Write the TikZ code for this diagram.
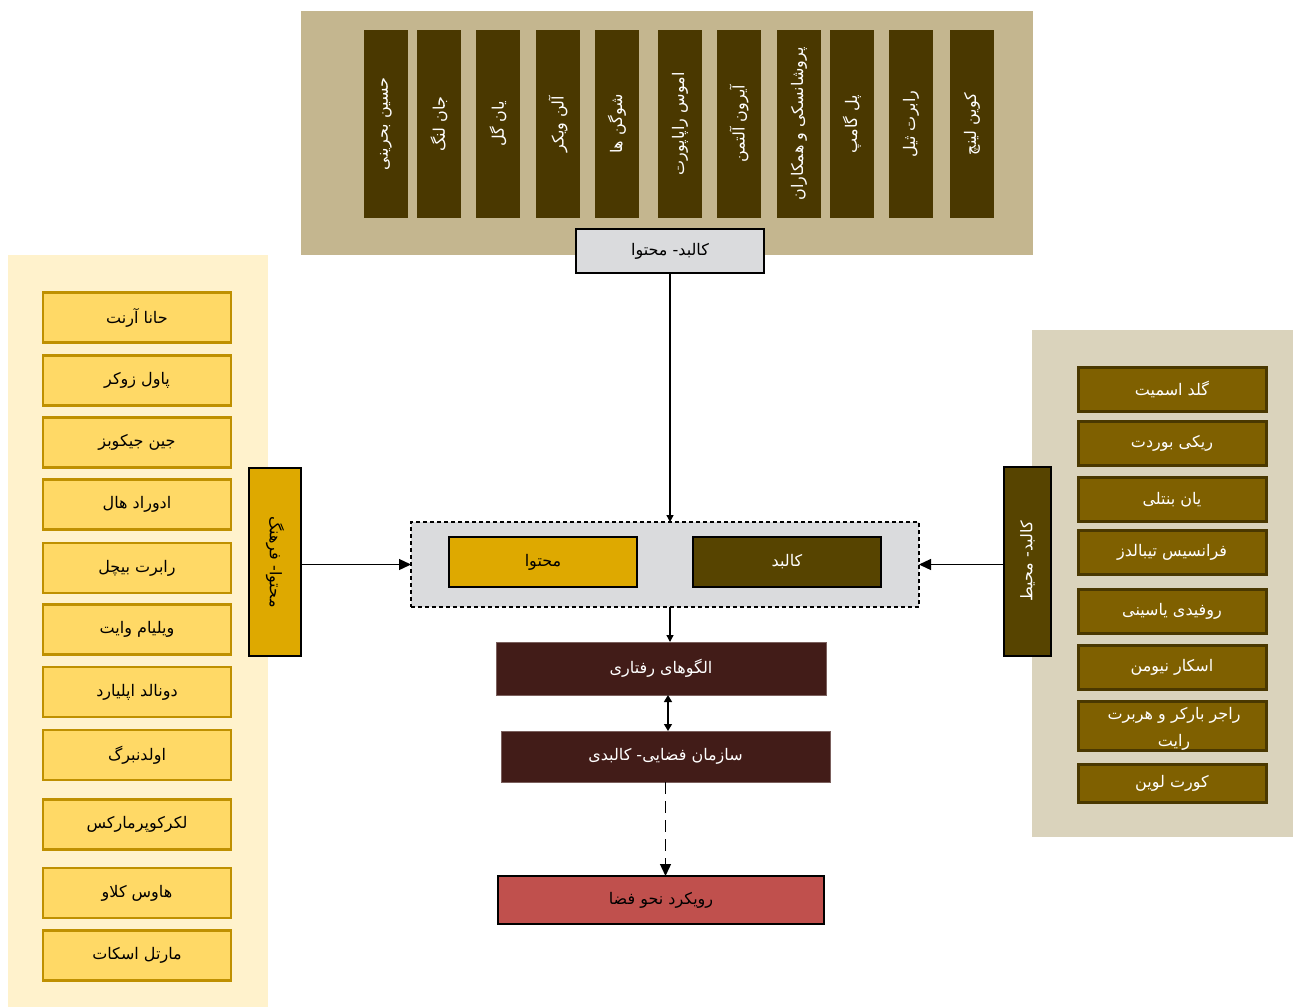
\documentclass[tikz,border=0pt]{standalone}
\usepackage{fontspec}
\usetikzlibrary{arrows.meta}
\TeXXeTstate=1
\newfontfamily\fa[Script=Arabic]{DejaVu Sans}
\newcommand\fatext[1]{{\fa\beginR #1\endR}}
\definecolor{topbg}{RGB}{196,182,143}
\definecolor{colbrown}{RGB}{74,56,0}
\definecolor{lightgray}{RGB}{218,219,221}
\definecolor{gold}{RGB}{222,169,0}
\definecolor{olive}{RGB}{87,68,0}
\definecolor{leftbg}{RGB}{255,242,204}
\definecolor{leftfill}{RGB}{255,217,102}
\definecolor{leftdraw}{RGB}{191,144,0}
\definecolor{rightbg}{RGB}{218,211,188}
\definecolor{rightfill}{RGB}{127,96,0}
\definecolor{maroon}{RGB}{66,28,24}
\definecolor{redbox}{RGB}{192,80,77}
\tikzset{
  base/.style={inner sep=0pt, outer sep=0pt, font=\fontsize{16}{19}\selectfont},
  topcol/.style={base, fill=colbrown, text=white, rotate=90, minimum width=188pt, minimum height=44pt},
  leftitem/.style={base, fill=leftfill, draw=leftdraw, line width=2.5pt, text=black, minimum width=188pt, minimum height=50pt},
  rightitem/.style={base, fill=rightfill, draw=colbrown, line width=3pt, text=white, minimum width=188pt, minimum height=44pt},
  blackbox/.style={base, draw=black, line width=2.5pt},
  darkbox/.style={base, fill=maroon, text=white, draw=maroon!70!white, line width=0.5pt},
  conn/.style={line width=1.3pt, -{Triangle[length=7pt,width=7pt]}},
  bigconn/.style={line width=1.3pt, -{Triangle[length=12pt,width=11pt]}},
}
\begin{document}
\begin{tikzpicture}[x=1pt,y=-1pt]
\useasboundingbox (0,0) rectangle (1293,1007);
% backgrounds
\fill[topbg] (301,11) rectangle (1033,255);
\fill[leftbg] (8,255) rectangle (268,1007);
\fill[rightbg] (1032,330) rectangle (1293,837);
% top columns
\node[topcol] (c1) at (386,124) {\fatext{حسین بحرینی}};
\node[topcol] (c2) at (439,124) {\fatext{جان لنگ}};
\node[topcol] (c3) at (498,124) {\fatext{یان گل}};
\node[topcol] (c4) at (558,124) {\fatext{آلن ویکر}};
\node[topcol] (c5) at (617,124) {\fatext{شوگن ها}};
\node[topcol] (c6) at (680,124) {\fatext{اموس راپاپورت}};
\node[topcol] (c7) at (739,124) {\fatext{آیرون آلتمن}};
\node[topcol] (c8) at (799,124) {\fatext{پروشانسکی و همکاران}};
\node[topcol] (c9) at (852,124) {\fatext{پل گامپ}};
\node[topcol] (c10) at (911,124) {\fatext{رابرت ثیل}};
\node[topcol] (c11) at (972,124) {\fatext{کوین لینچ}};
% top label
\node[blackbox, fill=lightgray, minimum width=188pt, minimum height=44pt] (lbl) at (670,251) {\fatext{کالبد- محتوا}};
% dashed centre box
\node[base, fill=lightgray, draw=black, line width=2pt, dash pattern=on 4pt off 3pt, minimum width=508pt, minimum height=85pt] (dash) at (665,564.5) {};
\node[blackbox, fill=gold, text=black, minimum width=188pt, minimum height=50pt] (mohtava) at (543,562) {\fatext{محتوا}};
\node[blackbox, fill=olive, text=white, minimum width=188pt, minimum height=50pt] (kalbad) at (787,562) {\fatext{کالبد}};
% side boxes
\node[blackbox, fill=gold, text=black, rotate=-90, minimum width=188pt, minimum height=52pt] (leftbox) at (275,562) {\fatext{محتوا- فرهنگ}};
\node[blackbox, fill=olive, text=white, rotate=90, minimum width=189pt, minimum height=47pt] (rightbox) at (1027.5,561.5) {\fatext{کالبد- محیط}};
% left items
\node[leftitem] (l1) at (137,317.5) {\fatext{حانا آرنت}};
\node[leftitem] (l2) at (137,380.5) {\fatext{پاول زوکر}};
\node[leftitem] (l3) at (137,442.5) {\fatext{جین جیکوبز}};
\node[leftitem] (l4) at (137,504.5) {\fatext{ادوراد هال}};
\node[leftitem] (l5) at (137,568) {\fatext{رابرت بیچل}};
\node[leftitem] (l6) at (137,629.5) {\fatext{ویلیام وایت}};
\node[leftitem] (l7) at (137,692) {\fatext{دونالد اپلیارد}};
\node[leftitem] (l8) at (137,755) {\fatext{اولدنبرگ}};
\node[leftitem] (l9) at (137,824.5) {\fatext{لکرکوپرمارکس}};
\node[leftitem] (l10) at (137,893) {\fatext{هاوس کلاو}};
\node[leftitem] (l11) at (137,955.5) {\fatext{مارتل اسکات}};
% right items
\node[rightitem] (r1) at (1172,389.5) {\fatext{گلد اسمیت}};
\node[rightitem] (r2) at (1172,443) {\fatext{ریکی بوردت}};
\node[rightitem] (r3) at (1172,499.5) {\fatext{یان بنتلی}};
\node[rightitem] (r4) at (1172,552.5) {\fatext{فرانسیس تیبالدز}};
\node[rightitem] (r5) at (1172,611.5) {\fatext{روفیدی یاسینی}};
\node[rightitem] (r6) at (1172,667.5) {\fatext{اسکار نیومن}};
\node[rightitem, minimum height=49pt] (r7) at (1172,725.5) {};
\node[base, text=white, align=center, font=\fontsize{16}{27}\selectfont] (r7t) at (1174,729) {\fatext{راجر بارکر و هربرت}\\\fatext{رایت}};
\node[rightitem, minimum height=38pt] (r8) at (1172,783) {\fatext{کورت لوین}};
% centre chain
\node[darkbox, minimum width=330pt, minimum height=53pt] (beh) at (661,668.5) {\fatext{الگوهای رفتاری}};
\node[darkbox, minimum width=329pt, minimum height=51pt] (org) at (665.5,756.5) {\fatext{سازمان فضایی- کالبدی}};
\node[blackbox, fill=redbox, text=black, minimum width=326pt, minimum height=48pt] (nahw) at (661,900) {\fatext{رویکرد نحو فضا}};
% connectors
\draw[conn] (lbl.south) -- (lbl.south |- dash.north);
\draw[bigconn] (dash.west -| leftbox.north) -- (dash.west);
\draw[bigconn] (dash.east -| rightbox.north) -- (dash.east);
\draw[conn] (lbl.south |- dash.south) -- (lbl.south |- beh.north);
\draw[line width=1.3pt, {Triangle[length=7pt,width=8pt]}-{Triangle[length=7pt,width=8pt]}] ([xshift=7pt]beh.south) -- ([xshift=7pt]beh.south |- org.north);
\draw[line width=1.3pt, dash pattern=on 12pt off 7pt, -{Triangle[length=12pt,width=11pt]}] (org.south) -- (org.south |- nahw.north);
\end{tikzpicture}
\end{document}
